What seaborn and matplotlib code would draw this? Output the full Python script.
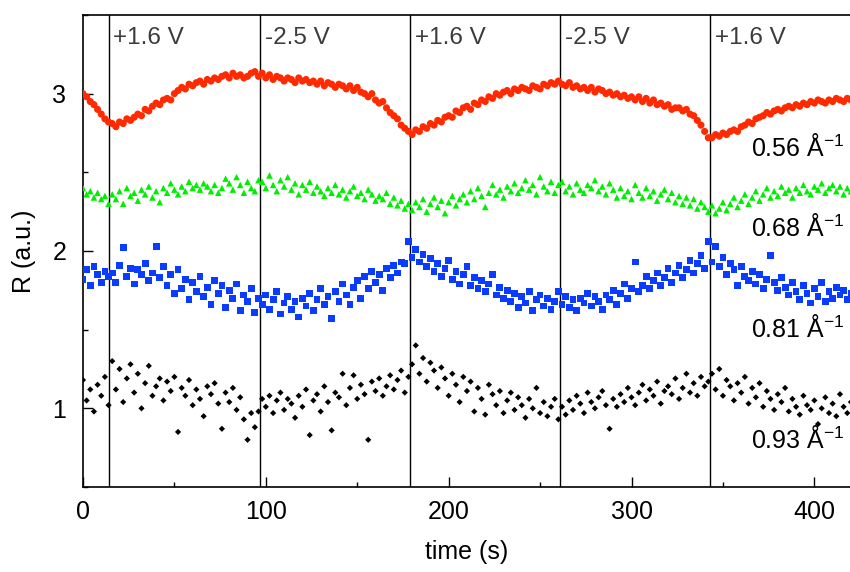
import numpy as np
import matplotlib
matplotlib.use('Agg')
import matplotlib.pyplot as plt
import seaborn as sns
from matplotlib.ticker import MultipleLocator

# sampling times (s), one reading every 2 s
time = np.arange(0, 421, 2)

# 0.56 1/A (red circles)
r056 = [3.00, 2.98, 2.95, 2.93, 2.90, 2.87, 2.84, 2.82,
        2.81, 2.79, 2.82, 2.81, 2.84, 2.83, 2.85, 2.87, 2.86, 2.90, 2.89, 2.92, 2.94, 2.93, 2.96, 2.97,
        2.96, 3.00, 3.02, 3.04, 3.03, 3.06, 3.05, 3.07, 3.08, 3.06, 3.09, 3.08, 3.10, 3.09, 3.11, 3.12,
        3.10, 3.13, 3.11, 3.12, 3.10, 3.11, 3.13, 3.14, 3.11,
        3.13, 3.10, 3.12, 3.09, 3.11, 3.10, 3.08, 3.10, 3.09, 3.07, 3.10, 3.08, 3.09, 3.07, 3.08, 3.06,
        3.08, 3.05, 3.07, 3.06, 3.04, 3.06, 3.05, 3.03, 3.05, 3.02, 3.04, 3.01, 3.00, 2.98, 3.00, 2.96,
        2.94, 2.95, 2.91, 2.88, 2.86, 2.84, 2.80, 2.78, 2.76,
        2.74, 2.77, 2.76, 2.79, 2.78, 2.81, 2.80, 2.83, 2.82, 2.85, 2.86, 2.85, 2.89, 2.88, 2.91, 2.92,
        2.90, 2.94, 2.93, 2.96, 2.95, 2.98, 2.97, 3.00, 2.99, 3.01, 3.02, 3.00, 3.03, 3.02, 3.04, 3.03,
        3.02, 3.05, 3.04, 3.03, 3.06, 3.05, 3.07, 3.06, 3.08,
        3.06, 3.05, 3.07, 3.04, 3.05, 3.03, 3.04, 3.02, 3.04, 3.01, 3.03, 3.02, 3.00, 3.01, 2.99, 3.00,
        2.98, 2.99, 2.97, 2.98, 2.96, 2.98, 2.95, 2.97, 2.94, 2.96, 2.93, 2.94, 2.92, 2.93, 2.90, 2.91,
        2.91, 2.89, 2.90, 2.87, 2.86, 2.83, 2.80, 2.76, 2.72,
        2.72, 2.74, 2.73, 2.75, 2.74, 2.76, 2.77, 2.76, 2.79, 2.80, 2.82, 2.81, 2.84, 2.85, 2.86, 2.88,
        2.87, 2.89, 2.90, 2.89, 2.91, 2.92, 2.91, 2.93, 2.92, 2.94, 2.93, 2.95, 2.94, 2.96, 2.95, 2.94,
        2.96, 2.95, 2.97, 2.96, 2.95, 2.97, 2.96]

# 0.68 1/A (green triangles)
r068 = [2.40, 2.36, 2.38, 2.34, 2.37, 2.33, 2.35, 2.30,
        2.36, 2.33, 2.38, 2.30, 2.40, 2.35, 2.37, 2.32, 2.39, 2.36, 2.41, 2.34, 2.38, 2.31, 2.40, 2.37,
        2.43, 2.39, 2.36, 2.41, 2.38, 2.44, 2.40, 2.42, 2.39, 2.43, 2.41, 2.38, 2.42, 2.37, 2.40, 2.46,
        2.43, 2.39, 2.47, 2.42, 2.37, 2.44, 2.40, 2.38, 2.45,
        2.44, 2.40, 2.48, 2.42, 2.38, 2.45, 2.41, 2.47, 2.39, 2.43, 2.36, 2.42, 2.39, 2.44, 2.37, 2.41,
        2.38, 2.35, 2.40, 2.37, 2.42, 2.36, 2.39, 2.34, 2.38, 2.41, 2.35, 2.37, 2.33, 2.39, 2.36, 2.32,
        2.35, 2.33, 2.37, 2.30, 2.34, 2.29, 2.32, 2.27, 2.30,
        2.26, 2.31, 2.28, 2.33, 2.25, 2.30, 2.34, 2.28, 2.32, 2.24, 2.31, 2.35, 2.29, 2.33, 2.36, 2.31,
        2.38, 2.33, 2.40, 2.35, 2.28, 2.37, 2.42, 2.36, 2.39, 2.34, 2.41, 2.38, 2.43, 2.37, 2.40, 2.45,
        2.39, 2.42, 2.36, 2.47, 2.41, 2.38, 2.44, 2.37, 2.42,
        2.44, 2.38, 2.41, 2.36, 2.43, 2.39, 2.37, 2.42, 2.40, 2.45, 2.38, 2.41, 2.36, 2.43, 2.39, 2.34,
        2.40, 2.35, 2.38, 2.33, 2.42, 2.37, 2.34, 2.40, 2.35, 2.38, 2.32, 2.36, 2.39, 2.33, 2.37, 2.31,
        2.35, 2.30, 2.34, 2.29, 2.33, 2.27, 2.31, 2.28, 2.25,
        2.29, 2.24, 2.27, 2.31, 2.26, 2.30, 2.34, 2.28, 2.32, 2.36, 2.30, 2.34, 2.38, 2.32, 2.36, 2.40,
        2.34, 2.38, 2.35, 2.41, 2.37, 2.39, 2.34, 2.40, 2.37, 2.42, 2.38, 2.36, 2.41, 2.39, 2.43, 2.37,
        2.40, 2.42, 2.38, 2.41, 2.36, 2.40, 2.38]

# 0.81 1/A (blue squares)
r081 = [1.82, 1.88, 1.78, 1.90, 1.85, 1.80, 1.87, 1.84,
        1.86, 1.80, 1.91, 2.02, 1.84, 1.89, 1.79, 1.88, 1.85, 1.92, 1.81, 1.86, 2.03, 1.83, 1.90, 1.78,
        1.85, 1.73, 1.88, 1.76, 1.82, 1.69, 1.80, 1.74, 1.84, 1.71, 1.77, 1.66, 1.81, 1.73, 1.78, 1.64,
        1.75, 1.70, 1.79, 1.62, 1.72, 1.68, 1.76, 1.61, 1.70,
        1.66, 1.72, 1.63, 1.69, 1.74, 1.60, 1.67, 1.71, 1.63, 1.68, 1.58, 1.70, 1.65, 1.73, 1.62, 1.69,
        1.76, 1.66, 1.71, 1.57, 1.74, 1.68, 1.79, 1.72, 1.66, 1.77, 1.81, 1.70, 1.84, 1.76, 1.87, 1.80,
        1.85, 1.75, 1.89, 1.83, 1.91, 1.86, 1.93, 1.92, 2.06,
        1.96, 2.01, 1.93, 1.98, 1.90, 1.95, 1.87, 1.92, 1.84, 1.89, 1.94, 1.82, 1.87, 1.79, 1.85, 1.90,
        1.78, 1.83, 1.76, 1.81, 1.74, 1.79, 1.85, 1.72, 1.77, 1.70, 1.75, 1.68, 1.73, 1.64, 1.71, 1.67,
        1.74, 1.62, 1.69, 1.72, 1.65, 1.70, 1.63, 1.68, 1.74,
        1.66, 1.71, 1.64, 1.69, 1.62, 1.70, 1.67, 1.73, 1.65, 1.71, 1.68, 1.63, 1.72, 1.69, 1.75, 1.66,
        1.73, 1.79, 1.70, 1.76, 1.93, 1.74, 1.78, 1.84, 1.76, 1.81, 1.86, 1.78, 1.83, 1.89, 1.80, 1.86,
        1.91, 1.83, 1.88, 1.94, 1.86, 1.92, 1.97, 1.89, 2.06,
        1.93, 2.03, 1.90, 1.96, 1.85, 1.92, 1.88, 1.78, 1.90, 1.84, 1.81, 1.87, 1.79, 1.85, 1.76, 1.82,
        1.97, 1.80, 1.75, 1.83, 1.77, 1.72, 1.80, 1.74, 1.69, 1.78, 1.73, 1.67, 1.76, 1.71, 1.80, 1.68,
        1.74, 1.70, 1.77, 1.72, 1.75, 1.69, 1.73]

# 0.93 1/A (black diamonds)
r093 = [1.18, 1.05, 1.12, 0.98, 1.15, 1.08, 1.20, 1.02,
        1.30, 1.12, 1.25, 1.04, 1.19, 1.28, 1.10, 1.22, 1.00, 1.16, 1.27, 1.08, 1.14, 1.19, 1.05, 1.17,
        1.11, 1.20, 0.85, 1.13, 1.08, 1.18, 1.02, 1.12, 1.06, 0.95, 1.14, 1.09, 1.16, 1.03, 0.87, 1.10,
        1.04, 1.13, 0.99, 1.07, 0.93, 0.80, 0.97, 0.88, 0.98,
        1.06, 1.01, 1.08, 0.97, 1.05, 1.10, 0.99, 1.06, 1.03, 0.94, 1.08, 1.01, 1.12, 0.83, 1.05, 1.09,
        0.98, 1.14, 1.04, 0.86, 1.10, 1.07, 1.22, 1.02, 1.13, 1.21, 1.06, 1.15, 1.09, 0.80, 1.17, 1.11,
        1.19, 1.08, 1.14, 1.21, 1.12, 1.18, 1.24, 1.10, 1.20,
        1.28, 1.40, 1.22, 1.32, 1.17, 1.29, 1.24, 1.13, 1.26, 1.19, 1.08, 1.22, 1.15, 1.04, 1.20, 1.11,
        1.17, 0.98, 1.13, 1.06, 0.96, 1.15, 1.09, 1.02, 1.11, 0.97, 1.05, 1.10, 0.99, 1.07, 1.02, 0.94,
        1.06, 1.00, 1.13, 0.97, 1.04, 0.95, 1.01, 1.06, 0.93,
        1.01, 0.96, 1.05, 0.99, 1.08, 1.03, 0.97, 1.10, 1.04, 1.00, 1.07, 1.11, 1.02, 0.87, 1.06, 1.01,
        1.09, 1.04, 1.13, 1.07, 1.02, 1.10, 1.15, 1.05, 1.12, 1.08, 1.17, 1.03, 1.11, 1.14, 1.09, 1.19,
        1.06, 1.13, 1.22, 1.10, 1.16, 1.08, 1.20, 1.14, 1.17,
        1.22, 1.12, 1.25, 1.08, 1.18, 1.14, 1.05, 1.16, 1.10, 1.20, 1.03, 1.13, 1.07, 1.16, 1.01, 1.11,
        1.06, 0.99, 1.09, 1.04, 1.13, 0.98, 1.06, 1.01, 0.96, 1.08, 1.02, 0.99, 1.05, 0.90, 1.00, 1.07,
        0.97, 1.03, 0.95, 1.09, 1.01, 0.97, 1.04]

# potential switching times and applied voltages
switch_times = [14, 97, 179, 261, 343]
switch_labels = ['+1.6 V', '-2.5 V', '+1.6 V', '-2.5 V', '+1.6 V']

# series labels on the right
q_labels = [r'0.56 Å$^{-1}$', r'0.68 Å$^{-1}$', r'0.81 Å$^{-1}$', r'0.93 Å$^{-1}$']
q_label_y = [2.66, 2.15, 1.51, 0.80]

sns.set_style('ticks')
plt.rcParams['font.family'] = ['Liberation Sans', 'DejaVu Sans']
plt.rcParams['mathtext.fontset'] = 'custom'
plt.rcParams['mathtext.rm'] = 'Liberation Sans'
plt.rcParams['mathtext.it'] = 'Liberation Sans:italic'
plt.rcParams['text.color'] = 'black'
plt.rcParams['axes.labelcolor'] = 'black'
plt.rcParams['xtick.color'] = 'black'
plt.rcParams['ytick.color'] = 'black'

fig = plt.figure(figsize=(8.5, 5.72), dpi=100)
ax = fig.add_axes([0.0976, 0.1486, 0.9035, 0.8252])

series = [
    (r056, 'o', '#ff2a00', 26),
    (r068, '^', '#00ee00', 22),
    (r081, 's', '#0a3cff', 24),
    (r093, 'D', '#000000', 10),
]
for vals, mk, col, size in series:
    sns.scatterplot(x=time, y=vals, marker=mk, color=col, s=size,
                    edgecolor='none', linewidth=0, ax=ax, zorder=3)

for t, lab in zip(switch_times, switch_labels):
    ax.axvline(t, color='black', linewidth=1.0, zorder=2)
    ax.text(t + 2.5, 3.355, lab, fontsize=17.5, color='#3c3c3c', ha='left', va='center')

for lab, y in zip(q_labels, q_label_y):
    ax.text(365.5, y, lab, fontsize=18, color='black', ha='left', va='center')

ax.set_xlim(0, 420)
ax.set_ylim(0.5, 3.5)
ax.xaxis.set_major_locator(MultipleLocator(100))
ax.xaxis.set_minor_locator(MultipleLocator(50))
ax.yaxis.set_major_locator(MultipleLocator(1))
ax.yaxis.set_minor_locator(MultipleLocator(0.5))
ax.tick_params(which='major', direction='in', length=7, width=1.0, labelsize=18,
               pad=9, top=False, right=False, colors='black')
ax.tick_params(which='minor', direction='in', length=3.5, width=1.0, top=False, right=False,
               colors='black')
ax.tick_params(axis='y', which='major', pad=12)

for side in ['left', 'bottom', 'top']:
    ax.spines[side].set_linewidth(1.2)
    ax.spines[side].set_color('black')
ax.spines['right'].set_visible(False)

ax.set_xlabel('time (s)', fontsize=18, labelpad=12)
ax.set_ylabel('R (a.u.)', fontsize=18, labelpad=12)
ax.grid(False)

fig.savefig('out.png', dpi=100)
